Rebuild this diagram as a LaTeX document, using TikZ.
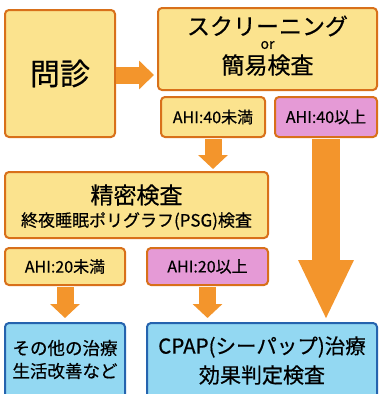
\documentclass[tikz,border=0pt]{standalone}
\usepackage{fontspec}
\setmainfont{Noto Sans CJK JP}[FakeBold=0.5]
\usetikzlibrary{arrows.meta}
\definecolor{yfill}{HTML}{FBE38E}
\definecolor{ydraw}{HTML}{D8701A}
\definecolor{pfill}{HTML}{E59AD6}
\definecolor{bfill}{HTML}{93D8F2}
\definecolor{bdraw}{HTML}{2563AE}
\definecolor{arr}{HTML}{F3952C}
\tikzset{
  box/.style={rounded corners=4pt, line width=2pt, inner sep=0pt, align=center},
  ybox/.style={box, fill=yfill, draw=ydraw},
  pbox/.style={box, fill=pfill, draw=ydraw},
  bbox/.style={box, fill=bfill, draw=bdraw},
  txt/.style={inner sep=0pt},
  smallarrow/.style={draw=arr, line width=17pt, -{Triangle[width=29pt,length=14pt]}},
  bigarrow/.style={draw=arr, line width=28pt, -{Triangle[width=51pt,length=60pt]}},
}
\begin{document}
\begin{tikzpicture}[x=1pt,y=-1pt]
\useasboundingbox (0,0) rectangle (379,394);
\clip (0,0) rectangle (379,394);
\fill[white] (0,0) rectangle (379,394);
% boxes
\node[ybox, minimum width=110, minimum height=127, font=\fontsize{30}{32}\selectfont] (monshin) at (60,73.5) {問診};
\node[ybox, minimum width=219, minimum height=82] (screen) at (267.5,49) {};
\node[txt, font=\fontsize{23}{25}\selectfont] (t1) at (267.5,26) {スクリーニング};
\node[txt, font=\fontsize{14}{15}\selectfont] (t2) at (267.5,45) {or};
\node[txt, font=\fontsize{23}{25}\selectfont] (t3) at (267.5,65) {簡易検査};
\node[ybox, minimum width=104, minimum height=40, font=\fontsize{16}{17}\selectfont] (a40l) at (213,117) {AHI:40未満};
\node[pbox, minimum width=102, minimum height=40, font=\fontsize{16}{17}\selectfont] (a40h) at (326,117) {AHI:40以上};
\node[ybox, minimum width=263, minimum height=66] (psg) at (136.5,205) {};
\node[txt, font=\fontsize{23}{25}\selectfont] (p1) at (136.5,195) {精密検査};
\node[txt, font=\fontsize{17}{19}\selectfont] (p2) at (136.5,221) {終夜睡眠ポリグラフ(PSG)検査};
\node[ybox, minimum width=120, minimum height=37, font=\fontsize{16}{17}\selectfont] (a20l) at (65,266.5) {AHI:20未満};
\node[pbox, minimum width=121, minimum height=37, font=\fontsize{16}{17}\selectfont] (a20h) at (207.5,266.5) {AHI:20以上};
\node[bbox, minimum width=120, minimum height=90, anchor=north] (other) at (65,322) {};
\node[txt, font=\fontsize{17.5}{19}\selectfont] (o1) at (65,348) {その他の治療};
\node[txt, font=\fontsize{17.5}{19}\selectfont] (o2) at (65,371) {生活改善など};
\node[bbox, minimum width=230, minimum height=90, anchor=north] (cpap) at (262,322) {};
\node[txt, font=\fontsize{20.5}{22}\selectfont] (c1) at (262,347) {CPAP(シーパップ)治療};
\node[txt, font=\fontsize{21}{23}\selectfont] (c2) at (262,375) {効果判定検査};
% arrows
\draw[draw=arr, line width=17pt, -{Triangle[width=28pt,length=15pt]}, shorten >=3pt] ([yshift=-1.5pt]monshin.east) -- ([yshift=-1.5pt]monshin.east -| screen.west);
\draw[smallarrow, shorten <=1pt, shorten >=2pt] (a40l.south) -- (a40l.south |- psg.north);
\draw[bigarrow, shorten <=1pt, shorten >=2pt] (a40h.south) -- (a40h.south |- cpap.north);
\draw[smallarrow, shorten <=1pt, shorten >=4pt] (a20l.south) -- (other.north);
\draw[smallarrow, shorten <=1pt, shorten >=4pt] (a20h.south) -- (a20h.south |- cpap.north);
\end{tikzpicture}
\end{document}
